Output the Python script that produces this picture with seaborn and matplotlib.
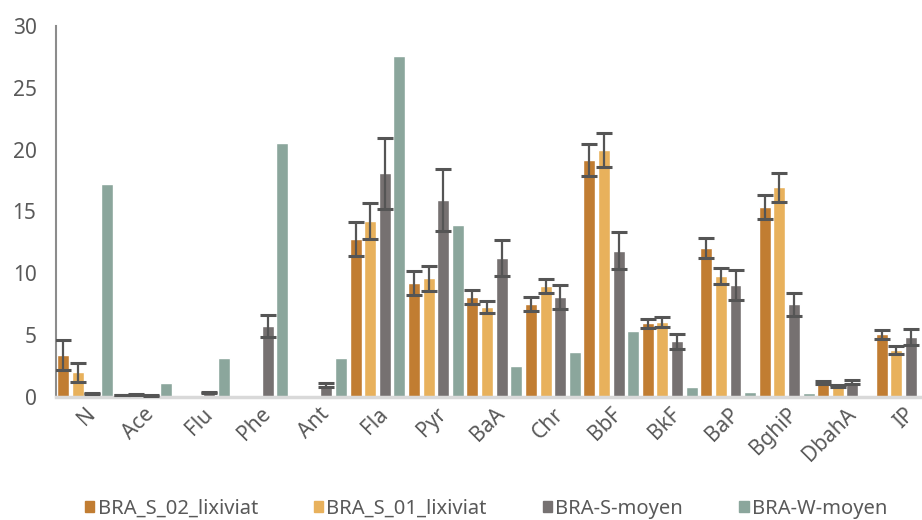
import numpy as np
import pandas as pd
import matplotlib
matplotlib.use('Agg')
import matplotlib.pyplot as plt
import seaborn as sns

# data
compounds = ['N', 'Ace', 'Flu', 'Phe', 'Ant', 'Fla', 'Pyr', 'BaA', 'Chr',
             'BbF', 'BkF', 'BaP', 'BghiP', 'DbahA', 'IP']
series = ['BRA_S_02_lixiviat', 'BRA_S_01_lixiviat', 'BRA-S-moyen', 'BRA-W-moyen']

s02 = [3.37, 0.14, 0, 0, 0, 12.78, 9.2, 8.07, 7.5, 19.13, 5.94, 12.03, 15.35, 1.15, 5.05]
s02_err = [1.2, 0.03, 0, 0, 0, 1.35, 0.95, 0.55, 0.55, 1.3, 0.35, 0.8, 1.0, 0.15, 0.35]
s01 = [1.97, 0.18, 0, 0, 0, 14.24, 9.58, 7.26, 8.96, 19.98, 6.02, 9.77, 16.94, 0.85, 3.78]
s01_err = [0.8, 0.03, 0, 0, 0, 1.45, 1.0, 0.5, 0.6, 1.4, 0.4, 0.65, 1.2, 0.1, 0.35]
s_moy = [0.28, 0.1, 0.35, 5.75, 0.95, 18.07, 15.89, 11.25, 8.07, 11.81, 4.5, 9.06, 7.47, 1.2, 4.86]
s_moy_err = [0.05, 0.03, 0.05, 0.9, 0.2, 2.86, 2.5, 1.45, 1.0, 1.5, 0.6, 1.2, 0.95, 0.15, 0.65]
w_moy = [17.18, 1.08, 3.16, 20.55, 3.16, 27.56, 13.92, 2.48, 3.59, 5.31, 0.78, 0.4, 0.27, 0, 0]

colors = ['#C17D32', '#E8B15C', '#767171', '#8BA69C']
text_col = '#595959'

values = [s02, s01, s_moy, w_moy]
errors = [s02_err, s01_err, s_moy_err, [0] * len(compounds)]

df = pd.DataFrame({
    'compound': compounds * 4,
    'serie': np.repeat(series, len(compounds)),
    'value': np.concatenate(values),
})

sns.set_style('white')
plt.rcParams['font.family'] = ['Noto Sans', 'DejaVu Sans']

fig = plt.figure(figsize=(9.22, 5.2), dpi=100)
ax = fig.add_axes([0.0607, 0.237, 0.951, 0.713])

sns.barplot(data=df, x='compound', y='value', hue='serie', order=compounds,
            hue_order=series, palette=colors, width=1.0, gap=0.18,
            errorbar=None, ax=ax, saturation=1, legend=False)

# error bars on top of each bar container
for cont, err in zip(ax.containers, errors):
    xs = [p.get_x() + p.get_width() / 2 for p in cont.patches]
    hs = [p.get_height() for p in cont.patches]
    for x, h, e in zip(xs, hs, err):
        if e > 0:
            ax.errorbar(x, h, yerr=e, fmt='none', ecolor='#555555',
                        elinewidth=1.6, capsize=6, capthick=2.2, zorder=5)

ax.set_ylim(0, 30)
ax.set_xlim(-0.5, len(compounds) - 0.5)
ax.set_yticks([0, 5, 10, 15, 20, 25, 30])
ax.set_xlabel('')
ax.set_ylabel('')

for s in ['top', 'right']:
    ax.spines[s].set_visible(False)
ax.spines['left'].set_color('#8C8C8C')
ax.spines['left'].set_linewidth(1.5)
ax.spines['bottom'].set_color('#D9D9D9')
ax.spines['bottom'].set_linewidth(2.5)

ax.tick_params(axis='y', direction='in', length=5, width=1.5, color='#8C8C8C',
               labelsize=15, labelcolor=text_col, pad=14)
ax.tick_params(axis='x', length=0, labelsize=15, labelcolor=text_col, pad=5)
plt.setp(ax.get_xticklabels(), rotation=45, ha='right', rotation_mode='anchor')

handles = [plt.Rectangle((0, 0), 1, 1, color=c) for c in colors]
fig.legend(handles, series, loc='center left', bbox_to_anchor=(0.073, 0.022),
           ncol=4, frameon=False, fontsize=14.5, labelcolor=text_col,
           handlelength=0.45, handleheight=0.45, handletextpad=0.15,
           columnspacing=2.8)

fig.savefig('out.png', dpi=100)
